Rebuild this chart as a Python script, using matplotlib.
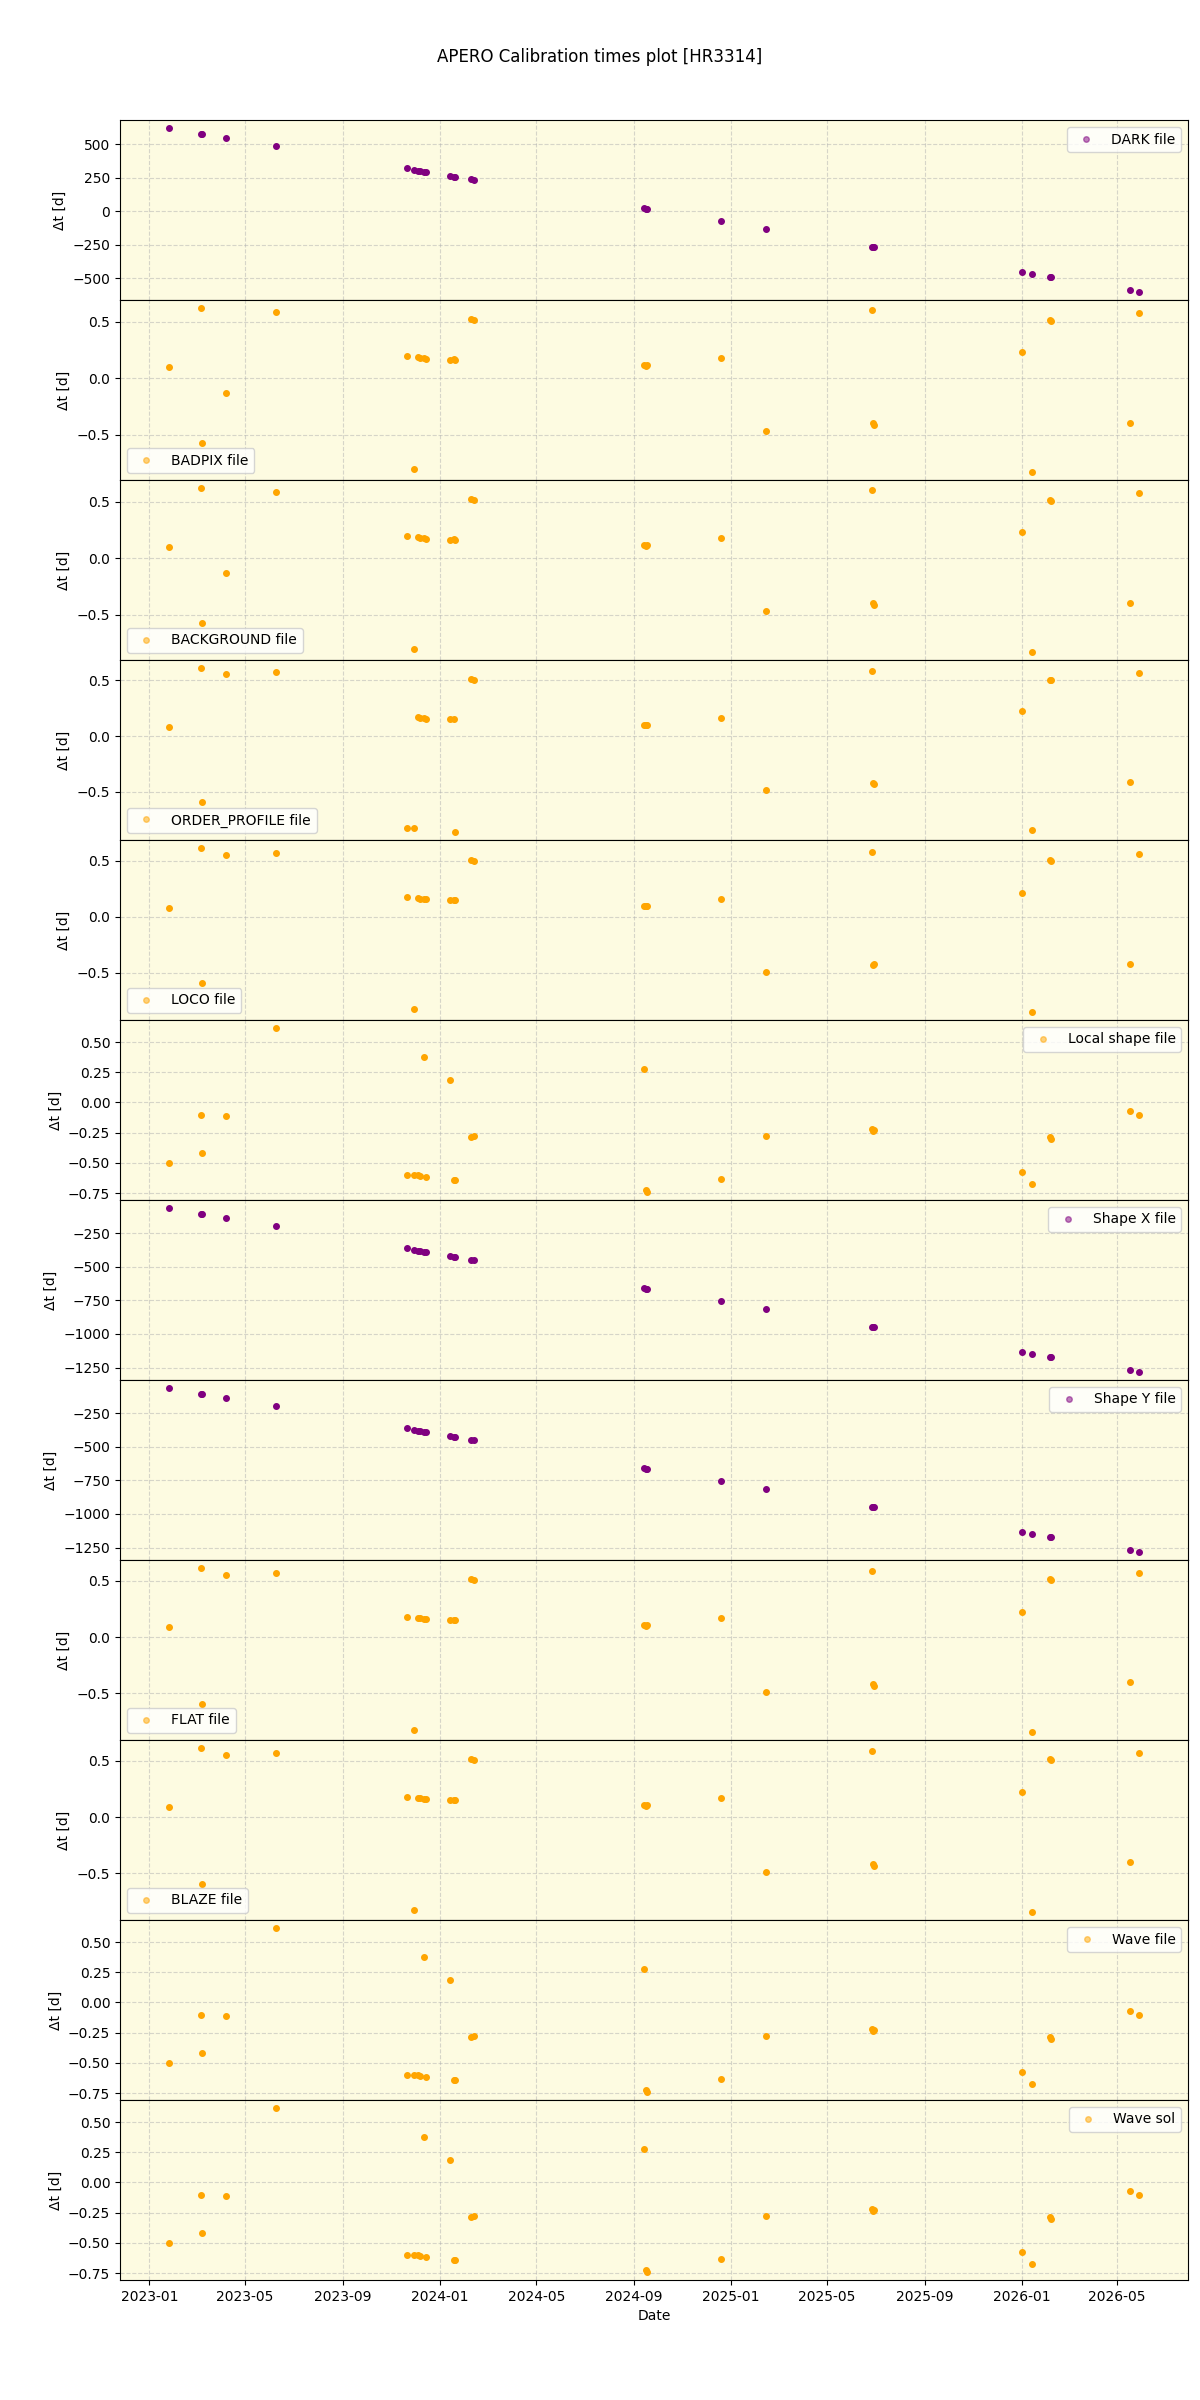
import matplotlib
matplotlib.use("Agg")
import matplotlib.pyplot as plt
import matplotlib.dates as mdates
import pandas as pd

# observation dates (one entry per science observation)
obs_dates = pd.to_datetime([
    "2023-01-25", "2023-03-07", "2023-03-08", "2023-04-07", "2023-06-09",
    "2023-11-21", "2023-11-30", "2023-12-05", "2023-12-07", "2023-12-12",
    "2023-12-15", "2024-01-14", "2024-01-19", "2024-01-20", "2024-02-09",
    "2024-02-13", "2024-09-13", "2024-09-16", "2024-09-17", "2024-12-19",
    "2025-02-14", "2025-06-27", "2025-06-28", "2025-06-29", "2026-01-02",
    "2026-01-14", "2026-02-06", "2026-02-07", "2026-05-17", "2026-05-29",
])

# delta t [days] between observation and calibration file
dark_dt = [619, 574, 573, 545, 485, 322, 307, 303, 300, 295, 292, 262, 258, 257,
           238, 234, 22, 17, 16, -74, -134, -266, -267, -268, -453, -468, -490,
           -492, -587, -602]
badpix_dt = [0.10, 0.62, -0.574, -0.13, 0.586, 0.195, -0.805, 0.183, 0.178, 0.175,
             0.17, 0.163, 0.169, 0.165, 0.52, 0.515, 0.115, 0.112, 0.118, 0.175,
             -0.47, 0.60, -0.40, -0.417, 0.23, -0.83, 0.518, 0.51, -0.40, 0.577]
background_dt = [0.10, 0.62, -0.574, -0.13, 0.586, 0.195, -0.805, 0.183, 0.178, 0.175,
                 0.17, 0.163, 0.169, 0.165, 0.52, 0.515, 0.115, 0.112, 0.118, 0.175,
                 -0.47, 0.60, -0.40, -0.417, 0.23, -0.83, 0.518, 0.51, -0.40, 0.577]
order_dt = [0.083, 0.607, -0.589, 0.554, 0.571, -0.821, -0.821, 0.173, 0.165, 0.16,
            0.155, 0.152, 0.152, -0.857, 0.506, 0.50, 0.10, 0.098, 0.102, 0.16,
            -0.482, 0.583, -0.423, -0.43, 0.223, -0.845, 0.503, 0.498, -0.41, 0.562]
loco_dt = [0.08, 0.613, -0.595, 0.554, 0.57, 0.179, -0.827, 0.165, 0.16, 0.158,
           0.155, 0.146, 0.146, 0.15, 0.506, 0.50, 0.098, 0.095, 0.10, 0.158,
           -0.49, 0.583, -0.428, -0.42, 0.214, -0.85, 0.503, 0.498, -0.42, 0.563]
lshape_dt = [-0.50, -0.104, -0.418, -0.113, 0.615, -0.602, -0.60, -0.60, -0.61, 0.376,
             -0.615, 0.186, -0.646, -0.64, -0.283, -0.28, 0.275, -0.725, -0.74, -0.63,
             -0.275, -0.22, -0.235, -0.227, -0.58, -0.675, -0.29, -0.30, -0.074, -0.104]
shapex_dt = [-64, -109, -110, -139, -198, -361, -376, -380, -383, -388, -391, -421,
             -425, -426, -446, -449, -661, -666, -667, -755, -815, -947, -948, -949,
             -1134, -1148, -1171, -1173, -1267, -1282]
shapey_dt = [-64, -109, -110, -139, -198, -361, -376, -380, -383, -388, -391, -421,
             -425, -426, -446, -449, -661, -666, -667, -755, -815, -947, -948, -949,
             -1134, -1148, -1171, -1173, -1267, -1282]
flat_dt = [0.087, 0.61, -0.59, 0.554, 0.57, 0.18, -0.82, 0.17, 0.165, 0.16,
           0.158, 0.15, 0.152, 0.15, 0.51, 0.505, 0.105, 0.10, 0.103, 0.165,
           -0.49, 0.585, -0.42, -0.43, 0.22, -0.84, 0.51, 0.505, -0.40, 0.57]
blaze_dt = [0.087, 0.61, -0.59, 0.554, 0.57, 0.18, -0.82, 0.17, 0.165, 0.16,
            0.158, 0.15, 0.152, 0.15, 0.51, 0.505, 0.105, 0.10, 0.103, 0.165,
            -0.49, 0.585, -0.42, -0.43, 0.22, -0.84, 0.51, 0.505, -0.40, 0.57]
wave_dt = [-0.50, -0.104, -0.418, -0.113, 0.615, -0.602, -0.60, -0.60, -0.61, 0.376,
           -0.615, 0.186, -0.646, -0.64, -0.283, -0.28, 0.275, -0.725, -0.74, -0.63,
           -0.275, -0.22, -0.235, -0.227, -0.58, -0.675, -0.29, -0.30, -0.074, -0.104]
wavesol_dt = [-0.50, -0.104, -0.418, -0.113, 0.615, -0.602, -0.60, -0.60, -0.61, 0.376,
              -0.615, 0.186, -0.646, -0.64, -0.283, -0.28, 0.275, -0.725, -0.74, -0.63,
              -0.275, -0.22, -0.235, -0.227, -0.58, -0.675, -0.29, -0.30, -0.074, -0.104]

labels = ["DARK file", "BADPIX file", "BACKGROUND file", "ORDER_PROFILE file",
          "LOCO file", "Local shape file", "Shape X file", "Shape Y file",
          "FLAT file", "BLAZE file", "Wave file", "Wave sol"]
values = [dark_dt, badpix_dt, background_dt, order_dt, loco_dt, lshape_dt,
          shapex_dt, shapey_dt, flat_dt, blaze_dt, wave_dt, wavesol_dt]
colors = ["purple", "orange", "orange", "orange", "orange", "orange",
          "purple", "purple", "orange", "orange", "orange", "orange"]
locs = ["upper right", "lower left", "lower left", "lower left", "lower left",
        "upper right", "upper right", "upper right", "lower left", "lower left",
        "upper right", "upper right"]

fig, axes = plt.subplots(12, 1, figsize=(12, 24), sharex=True)
plt.subplots_adjust(left=0.1, right=0.99, top=0.95, bottom=0.05, hspace=0)
fig.suptitle("APERO Calibration times plot [HR3314]")

for ax, lab, vals, col, loc in zip(axes, labels, values, colors, locs):
    ax.set_facecolor("#fdfbe1")
    ax.plot(obs_dates, vals, "o", color=col, ms=4, label=lab)
    ax.grid(True, linestyle="--", alpha=0.5)
    ax.set_ylabel("Δt [d]")
    leg = ax.legend(loc=loc)
    leg.legend_handles[0].set_alpha(0.5)

axes[-1].xaxis.set_major_locator(mdates.MonthLocator(bymonth=[1, 5, 9]))
axes[-1].xaxis.set_major_formatter(mdates.DateFormatter("%Y-%m"))
axes[-1].set_xlabel("Date")

plt.savefig("out.png", dpi=100)
